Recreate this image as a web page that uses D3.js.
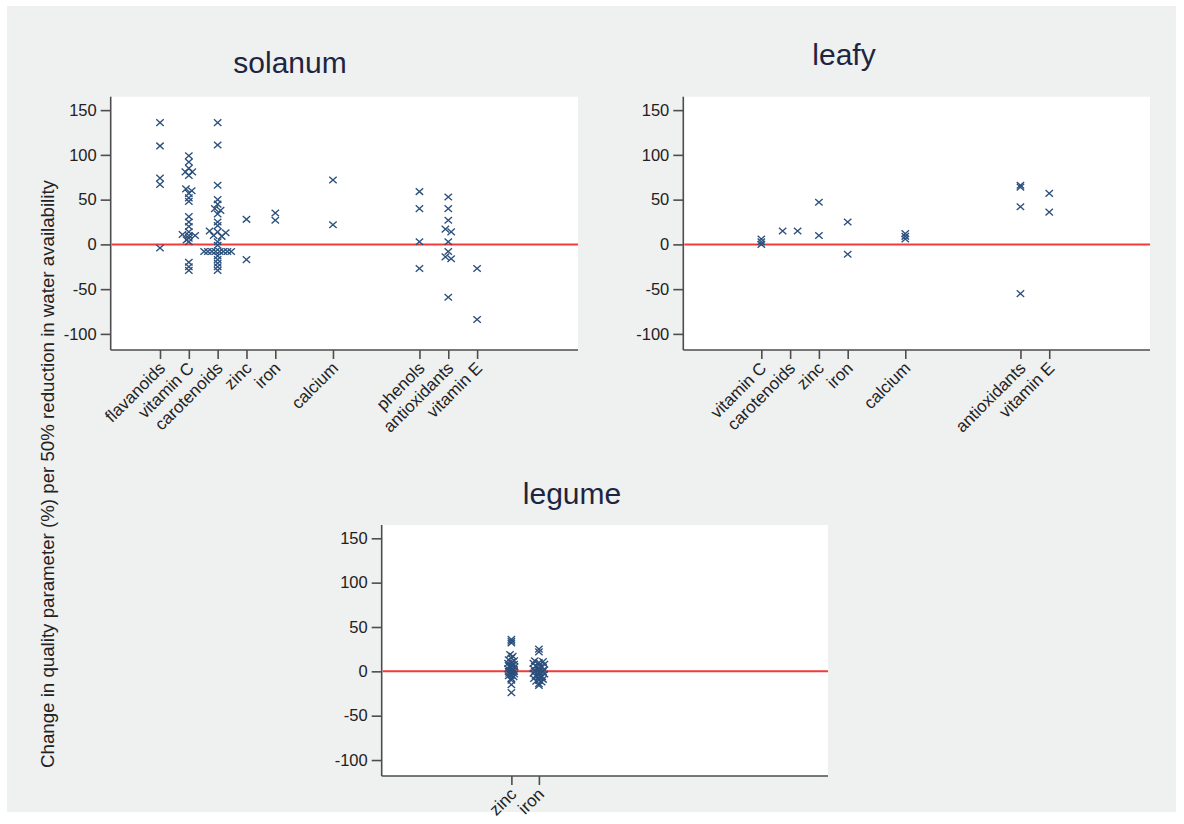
<!DOCTYPE html>
<html>
<head>
<meta charset="utf-8">
<script src="https://cdn.jsdelivr.net/npm/d3@7"></script>
<style>
  html, body { margin: 0; padding: 0; background: #ffffff; }
  svg { display: block; }
  text { font-family: "Liberation Sans", Arial, sans-serif; }
</style>
</head>
<body>
<svg id="chart" width="1184" height="824"></svg>
<script>
// ---------------- DATA ----------------
const yTicks = [-100, -50, 0, 50, 100, 150];
const yLabel = "Change in quality parameter (%) per 50% reduction in water availability";

// solanum
const solanumCategories = ["flavanoids", "vitamin C", "carotenoids", "zinc", "iron", "calcium", "phenols", "antioxidants", "vitamin E"];
const solanumPositions  = [1, 2, 3, 4, 5, 7, 10, 11, 12];
const solanumValues = [
  [136, 110, 74, 67, -4],
  [99, 92, 85, 81, 81, 77, 62, 60, 57, 52, 48, 31, 25, 20, 14, 11, 10, 10, 7, 5, 3, -20, -25, -29],
  [136, 111, 66, 50, 45, 40, 38, 34, 25, 21, 15, 14, 13, 10, 9, 3, -1, -8, -8, -8, -8, -8, -8, -8, -8, -13, -17, -21, -25, -29],
  [28, -17],
  [35, 27],
  [72, 22],
  [59, 40, 3, -27],
  [53, 40, 27, 17, 14, 3, -8, -14, -16, -59],
  [-27, -84]
];
// horizontal spread of overlapping points (category units)
const solanumOffsets = [
  [0, 0, 0, 0, 0],
  [0, 0, 0, -0.12, 0.12, 0, -0.1, 0.1, 0, 0, 0, 0, 0, 0, 0, -0.22, 0, 0.22, 0, -0.08, 0, 0, 0, 0],
  [0, 0, 0, 0, 0, -0.1, 0.1, 0, 0, 0, -0.28, 0, 0.28, -0.14, 0.14, 0, 0, -0.47, -0.34, -0.2, -0.07, 0.07, 0.2, 0.34, 0.47, 0, 0, 0, 0, 0],
  [0, 0],
  [0, 0],
  [0, 0],
  [0, 0, 0, 0],
  [0, 0, 0, -0.1, 0.1, 0, 0, -0.1, 0.1, 0],
  [0, 0]
];

// leafy
const leafyCategories = ["vitamin C", "carotenoids", "zinc", "iron", "calcium", "antioxidants", "vitamin E"];
const leafyPositions  = [2, 3, 4, 5, 7, 11, 12];
const leafyValues = [
  [6, 3, 0],
  [15, 15],
  [47, 10],
  [25, -11],
  [12, 9, 6],
  [66, 64, 42, -55],
  [57, 36]
];
const leafyOffsets = [
  [0, 0, 0],
  [-0.26, 0.26],
  [0, 0],
  [0, 0],
  [0, 0, 0],
  [0, 0, 0, 0],
  [0, 0]
];

// legume
const legumeCategories = ["zinc", "iron"];
const legumePositions  = [4, 5];
const legumeValues = [
  [36, 34, 32, 19, 17, 15, 13, 12, 10, 9, 8, 7, 6, 5, 4, 3, 2, 1, 0, 0, -1, -2, -3, -4, -5, -6, -8, -10, -15, -24],
  [25, 22, 12, 11, 10, 9, 8, 7, 6, 5, 4, 3, 2, 1, 0, 0, -1, -2, -3, -4, -5, -6, -7, -8, -9, -10, -11, -12, -14, -16]
];
const legumeOffsets = [
  [0, 0, 0, -0.05, 0.05, 0, -0.1, 0.1, 0, -0.12, 0.1, 0, -0.08, 0.12, 0, -0.12, 0.08, 0, -0.1, 0.1, 0, -0.08, 0.1, 0, -0.1, 0.08, 0, 0, 0, 0],
  [0, 0, -0.15, 0.15, 0, -0.2, 0.2, 0, -0.12, 0.12, 0, -0.2, 0.18, 0, -0.15, 0.15, 0, -0.2, 0.2, 0, -0.12, 0.12, 0, -0.18, 0.15, 0, -0.1, 0.1, 0, 0]
];

// ---------------- LAYOUT ----------------
const xDomain = [-0.71, 15.5];
const yDomain = [-118, 165];

const panels = [
  { title: "solanum", cats: solanumCategories, pos: solanumPositions, vals: solanumValues, offs: solanumOffsets,
    left: 110.7, right: 578, top: 96.7, bottom: 350, titleX: 290, titleY: 73 },
  { title: "leafy", cats: leafyCategories, pos: leafyPositions, vals: leafyValues, offs: leafyOffsets,
    left: 683.3, right: 1150, top: 96.7, bottom: 350, titleX: 844, titleY: 65 },
  { title: "legume", cats: legumeCategories, pos: legumePositions, vals: legumeValues, offs: legumeOffsets,
    left: 381.7, right: 828, top: 525, bottom: 776, titleX: 572, titleY: 504 }
];

const svg = d3.select("#chart");

svg.append("rect")
  .attr("x", 7).attr("y", 6).attr("width", 1169).attr("height", 806)
  .attr("fill", "#eff0f0");

const axisColor = "#4d4d4d";
const markColor = "#2b4f7c";
const textColor = "#222222";

panels.forEach(p => {
  const x = d3.scaleLinear().domain(xDomain).range([p.left, p.right]);
  const y = d3.scaleLinear().domain(yDomain).range([p.bottom, p.top]);
  const g = svg.append("g");

  // plot region
  g.append("rect")
    .attr("x", p.left).attr("y", p.top)
    .attr("width", p.right - p.left).attr("height", p.bottom - p.top)
    .attr("fill", "#ffffff");

  // title
  g.append("text")
    .attr("x", p.titleX).attr("y", p.titleY)
    .attr("text-anchor", "middle")
    .attr("font-size", 30)
    .attr("fill", "#1d2540")
    .text(p.title);

  // y axis
  const yAxis = d3.axisLeft(y).tickValues(yTicks).tickSize(10).tickPadding(4).tickFormat(d => String(d));
  const ya = g.append("g").attr("transform", `translate(${p.left},0)`).call(yAxis);
  ya.select(".domain").attr("stroke", axisColor).attr("stroke-width", 1.6)
    .attr("d", `M0,${p.top}V${p.bottom}`);
  ya.selectAll(".tick line").attr("stroke", axisColor).attr("stroke-width", 1.6);
  ya.selectAll(".tick text").attr("font-size", 16.5).attr("fill", textColor)
    .attr("font-family", '"Liberation Sans", Arial, sans-serif');

  // x axis
  const xAxis = d3.axisBottom(x).tickValues(p.pos).tickSize(9).tickFormat(() => "");
  const xa = g.append("g").attr("transform", `translate(0,${p.bottom})`).call(xAxis);
  xa.select(".domain").attr("stroke", axisColor).attr("stroke-width", 1.6)
    .attr("d", `M${p.left},0H${p.right}`);
  xa.selectAll(".tick line").attr("stroke", axisColor).attr("stroke-width", 1.6);

  // rotated category labels
  g.selectAll("text.cat").data(p.cats).enter().append("text")
    .attr("class", "cat")
    .attr("transform", (d, i) => `translate(${x(p.pos[i]) + 2},${p.bottom + 15}) rotate(-45)`)
    .attr("text-anchor", "end")
    .attr("dy", "0.35em")
    .attr("font-size", 17)
    .attr("fill", textColor)
    .text(d => d);

  // zero reference line
  g.append("line")
    .attr("x1", p.left + 1).attr("x2", p.right)
    .attr("y1", y(0)).attr("y2", y(0))
    .attr("stroke", "#f23a3a").attr("stroke-width", 2);

  // points
  const pts = [];
  p.vals.forEach((arr, i) => arr.forEach((v, j) => pts.push({ c: p.pos[i] + p.offs[i][j], v })));
  const rx = 3.7, ry = 3.3;
  g.selectAll("path.pt").data(pts).enter().append("path")
    .attr("class", "pt")
    .attr("transform", d => `translate(${x(d.c)},${y(d.v)})`)
    .attr("d", `M${-rx},${-ry}L${rx},${ry}M${-rx},${ry}L${rx},${-ry}`)
    .attr("fill", "none")
    .attr("stroke", markColor)
    .attr("stroke-width", 1.35);
});

// global y label
svg.append("text")
  .attr("transform", "translate(54,474) rotate(-90)")
  .attr("text-anchor", "middle")
  .attr("font-size", 18.7)
  .attr("fill", textColor)
  .text(yLabel);
</script>
</body>
</html>
